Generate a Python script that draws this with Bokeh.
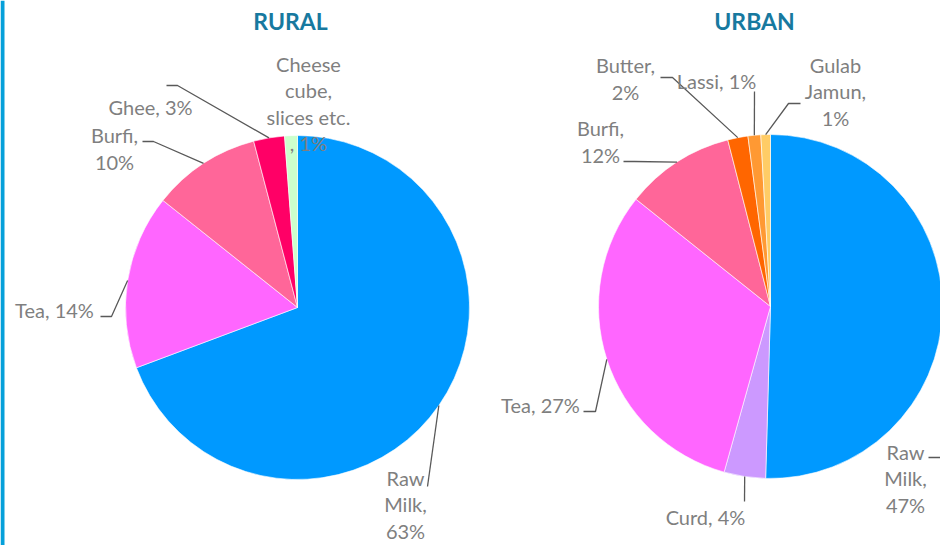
import math
from bokeh.plotting import figure
from bokeh.models import Range1d, ColumnDataSource, BoxAnnotation
from bokeh.core.properties import value
from bokeh.embed import file_html
from bokeh.resources import INLINE

# ---------------- data ----------------
rural_categories = ["Raw Milk", "Tea", "Burfi", "Ghee", "Cheese cube, slices etc."]
rural_pct_label = [63, 14, 10, 3, 1]               # percentages printed on labels
rural_shares = [69.3, 16.4, 10.2, 2.9, 1.2]        # slice sizes as drawn
rural_labels = ["Raw\nMilk,\n63%", "Tea, 14%", "Burfi,\n10%", "Ghee, 3%",
                "Cheese\ncube,\nslices etc.\n, 1%"]
rural_colors = ["#0099FF", "#FF66FF", "#FF6699", "#FF0066", "#CCFFCC"]

urban_categories = ["Raw Milk", "Curd", "Tea", "Burfi", "Butter", "Lassi", "Gulab Jamun"]
urban_pct_label = [47, 4, 27, 12, 2, 1, 1]
urban_shares = [50.5, 3.9, 31.4, 10.3, 1.9, 1.2, 0.9]
urban_labels = ["Raw\nMilk,\n47%", "Curd, 4%", "Tea, 27%", "Burfi,\n12%", "Butter,\n2%",
                "Lassi, 1%", "Gulab\nJamun,\n1%"]
urban_colors = ["#0099FF", "#CC99FF", "#FF66FF", "#FF6699", "#FF6600", "#FF9933", "#FFCC66"]

titles = ["RURAL", "URBAN"]

# ---------------- layout (page pixels, y downward) ----------------
W, H = 940, 545
def Y(y):
    return H - y

R = 172
rural_center = (297, 307)
urban_center = (770, 306)
title_pos = [(290, 20), (754, 20)]

rural_label_pos = [(405, 504), (54, 309), (114, 148), (150, 106), (308, 103)]
# leader: (elbow, end) or None
rural_leaders = [((427, 486), (427, 486)), ((111, 316), (100, 316)),
                 ((153, 141), (142, 141)), ((177, 85), (166, 85)), None]

urban_label_pos = [(905, 478), (705, 516), (540, 404), (600, 141), (625, 78),
                   (716, 80), (835, 91)]
urban_leaders = [((941, 457), (928, 457)), ((744, 501), (744, 501)),
                 ((595, 411), (583, 411)), ((634, 161), (623, 161)),
                 ((672, 77), (660, 77)), ((754, 91), (754, 91)),
                 ((788, 103), (800, 103))]

LABEL_FONT = value("Lato")
LABEL_SIZE = "20px"
LABEL_COLOR = "#7F7F7F"
LEADER_COLOR = "#595959"

p = figure(width=W, height=H, x_range=Range1d(0, W), y_range=Range1d(0, H),
           output_backend="svg", toolbar_location=None, min_border=0,
           x_axis_type=None, y_axis_type=None)
p.grid.visible = False
p.outline_line_color = None
p.background_fill_color = "white"
p.border_fill_color = "white"

p.add_layout(BoxAnnotation(left=0, right=4, fill_color="#05A0DA", fill_alpha=1,
                           line_color=None))


def draw_pie(center, shares, colors, labels, label_pos, leaders):
    cx, cy = center
    total = float(sum(shares))
    starts, ends, mids = [], [], []
    cum = 0.0
    for s in shares:
        a0 = math.pi / 2 - 2 * math.pi * cum / total
        cum += s
        a1 = math.pi / 2 - 2 * math.pi * cum / total
        starts.append(a0)
        ends.append(a1)
        mids.append((a0 + a1) / 2)
    src = ColumnDataSource(dict(start=starts, end=ends, color=colors))
    p.wedge(x=cx, y=Y(cy), radius=R, start_angle="start", end_angle="end",
            direction="clock", fill_color="color", line_color="white",
            line_width=0.6, source=src)

    xs, ys = [], []
    for m, ld in zip(mids, leaders):
        if ld is None:
            continue
        ex = cx + R * math.cos(m)
        ey = Y(cy) + R * math.sin(m)
        (bx, by), (tx, ty) = ld
        xs.append([ex, bx, tx])
        ys.append([ey, Y(by), Y(ty)])
    p.multi_line(xs=xs, ys=ys, line_color=LEADER_COLOR, line_width=1.3)

    lsrc = ColumnDataSource(dict(x=[q[0] for q in label_pos],
                                 y=[Y(q[1]) for q in label_pos],
                                 t=labels))
    p.text(x="x", y="y", text="t", source=lsrc, text_align="center",
           text_baseline="middle", text_font=LABEL_FONT,
           text_font_size=LABEL_SIZE, text_color=LABEL_COLOR,
           text_line_height=1.1)


draw_pie(rural_center, rural_shares, rural_colors, rural_labels, rural_label_pos, rural_leaders)
draw_pie(urban_center, urban_shares, urban_colors, urban_labels, urban_label_pos, urban_leaders)

p.text(x=[q[0] for q in title_pos], y=[Y(q[1]) for q in title_pos], text=titles,
       text_align="center", text_baseline="middle", text_font=LABEL_FONT,
       text_font_size="23px", text_font_style="bold", text_color="#17799F")

open("out.html", "w").write(file_html(p, INLINE))
